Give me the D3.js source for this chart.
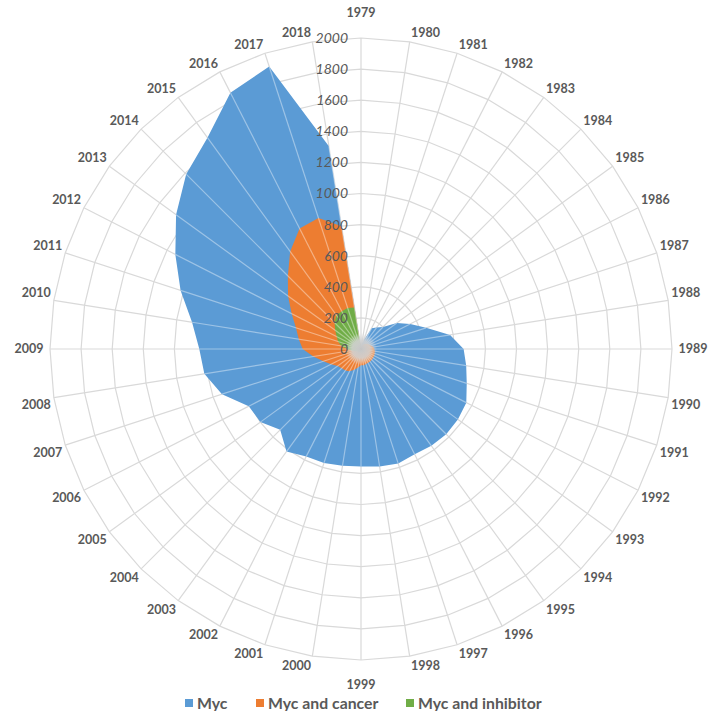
<!DOCTYPE html>
<html>
<head>
<meta charset="utf-8">
<script src="https://cdn.jsdelivr.net/npm/d3@7"></script>
<style>
  body { margin: 0; background: #fff; }
  svg { display: block; font-family: Lato, "Open Sans", sans-serif; }
</style>
</head>
<body>
<div id="chart"></div>
<script>
// categories (one spoke per year)
const years = [1979, 1980, 1981, 1982, 1983, 1984, 1985, 1986, 1987, 1988,
    1989, 1990, 1991, 1992, 1993, 1994, 1995, 1996, 1997, 1998,
    1999, 2000, 2001, 2002, 2003, 2004, 2005, 2006, 2007, 2008,
    2009, 2010, 2011, 2012, 2013, 2014, 2015, 2016, 2017, 2018];

// publications per year
const myc = [10, 30, 60, 150, 170, 200, 285, 355, 440, 580,
    660, 685, 715, 760, 770, 775, 770, 760, 775, 765,
    755, 760, 770, 775, 815, 735, 800, 810, 940, 1020,
    1040, 1100, 1220, 1340, 1470, 1590, 1680, 1850, 1910, 1320];

const mycCancer = [5, 10, 20, 30, 40, 45, 55, 60, 70, 80,
    85, 90, 92, 95, 95, 98, 100, 100, 102, 105,
    105, 120, 140, 160, 170, 175, 185, 215, 255, 310,
    375, 405, 440, 500, 580, 665, 775, 870, 885, 800];

const mycInhibitor = [2, 3, 4, 5, 5, 6, 6, 7, 8, 8,
    9, 10, 10, 11, 12, 12, 13, 14, 15, 15,
    16, 18, 20, 22, 24, 26, 28, 32, 40, 60,
    90, 130, 155, 175, 205, 240, 268, 272, 278, 270];

const radialTicks = [0, 200, 400, 600, 800, 1000, 1200, 1400, 1600, 1800, 2000];

const seriesNames = ["Myc", "Myc and cancer", "Myc and inhibitor"];
const seriesColors = ["#5b9bd5", "#ed7d31", "#70ad47"];

const width = 710, height = 711;
const cx = 361, cy = 349;
const R = 311;

const svg = d3.select("#chart")
    .append("svg")
    .attr("width", width)
    .attr("height", height);

const g = svg.append("g")
    .attr("transform", `translate(${cx},${cy})`);

const r = d3.scaleLinear().domain([0, 2000]).range([0, R]);
const angle = d3.scaleLinear().domain([0, years.length]).range([0, 2 * Math.PI]);

// grid rings (excel draws them as polygons)
const ring = d3.lineRadial()
    .angle((d, i) => angle(i))
    .radius(d => r(d))
    .curve(d3.curveLinearClosed);

g.selectAll(".ring")
    .data(radialTicks.slice(1))
    .enter()
    .append("path")
    .attr("d", t => ring(years.map(() => t)))
    .attr("fill", "none")
    .attr("stroke", "#d9d9d9")
    .attr("stroke-width", 1.2);

// spokes under the fills
const spokeEnd = (i, rad) => [Math.sin(angle(i)) * rad, -Math.cos(angle(i)) * rad];
g.selectAll(".spoke")
    .data(years)
    .enter()
    .append("line")
    .attr("x1", 0).attr("y1", 0)
    .attr("x2", (d, i) => spokeEnd(i, R)[0])
    .attr("y2", (d, i) => spokeEnd(i, R)[1])
    .attr("stroke", "#d9d9d9")
    .attr("stroke-width", 1.2);

// filled series, biggest first
const area = d3.lineRadial()
    .angle((d, i) => angle(i))
    .radius(d => r(d))
    .curve(d3.curveLinearClosed);

g.selectAll(".series")
    .data([myc, mycCancer, mycInhibitor])
    .enter()
    .append("path")
    .attr("d", d => area(d))
    .attr("fill", (d, i) => seriesColors[i])
    .attr("stroke", "none");

// light spokes showing through the fills
const topValue = i => d3.max([myc[i], mycCancer[i], mycInhibitor[i]]);
g.selectAll(".spokeOver")
    .data(years)
    .enter()
    .append("line")
    .attr("x1", 0).attr("y1", 0)
    .attr("x2", (d, i) => spokeEnd(i, r(topValue(i)))[0])
    .attr("y2", (d, i) => spokeEnd(i, r(topValue(i)))[1])
    .attr("stroke", "#ffffff")
    .attr("stroke-opacity", 0.4)
    .attr("stroke-width", 1.2);

// grey blob in the middle
const grad = svg.append("defs").append("radialGradient").attr("id", "blob");
grad.append("stop").attr("offset", "0%").attr("stop-color", "#c4c4c4");
grad.append("stop").attr("offset", "55%").attr("stop-color", "#d0d0d0").attr("stop-opacity", 0.85);
grad.append("stop").attr("offset", "100%").attr("stop-color", "#e0e0e0").attr("stop-opacity", 0);
g.append("circle").attr("r", 16).attr("fill", "url(#blob)");

// radial tick labels along the 1979 spoke
g.selectAll(".tickLabel")
    .data(radialTicks)
    .enter()
    .append("text")
    .attr("x", -13)
    .attr("y", d => -r(d))
    .attr("dy", "0.35em")
    .attr("text-anchor", "end")
    .style("font-style", "italic")
    .style("font-size", "14px")
    .attr("fill", "#595959")
    .text(d => d);

// year labels: the corner of the label box nearest the centre sits on the spoke
const yearLabels = g.selectAll(".yearLabel")
    .data(years)
    .enter()
    .append("text")
    .attr("text-anchor", "middle")
    .attr("dy", "0.35em")
    .style("font-size", "12.5px")
    .style("font-weight", "bold")
    .attr("fill", "#595959")
    .text(d => d);

yearLabels.each(function (d, i) {
    const a = angle(i);
    const s = Math.sin(a), c = Math.cos(a);
    const hw = this.getBBox().width / 2 + 1, hh = 7;
    let x, y;
    if (Math.abs(s) < 1e-6) {
        x = 0;
        y = -c * 336;
    } else if (Math.abs(c) < 1e-6) {
        x = s * 332;
        y = 0;
    } else {
        x = s * 313 + Math.sign(s) * hw;
        y = -c * 313 - Math.sign(c) * hh;
    }
    d3.select(this).attr("x", x).attr("y", y);
});

// legend
const legendX = [185, 256, 406];
const legend = svg.selectAll(".legend")
    .data(seriesNames)
    .enter()
    .append("g")
    .attr("transform", (d, i) => `translate(${legendX[i]},703)`);

legend.append("rect")
    .attr("x", 0).attr("y", -4)
    .attr("width", 8).attr("height", 8)
    .attr("fill", (d, i) => seriesColors[i]);

legend.append("text")
    .attr("x", 12)
    .attr("dy", "0.35em")
    .style("font-size", "15.8px")
    .style("font-weight", "bold")
    .attr("fill", "#595959")
    .text(d => d);
</script>
</body>
</html>
